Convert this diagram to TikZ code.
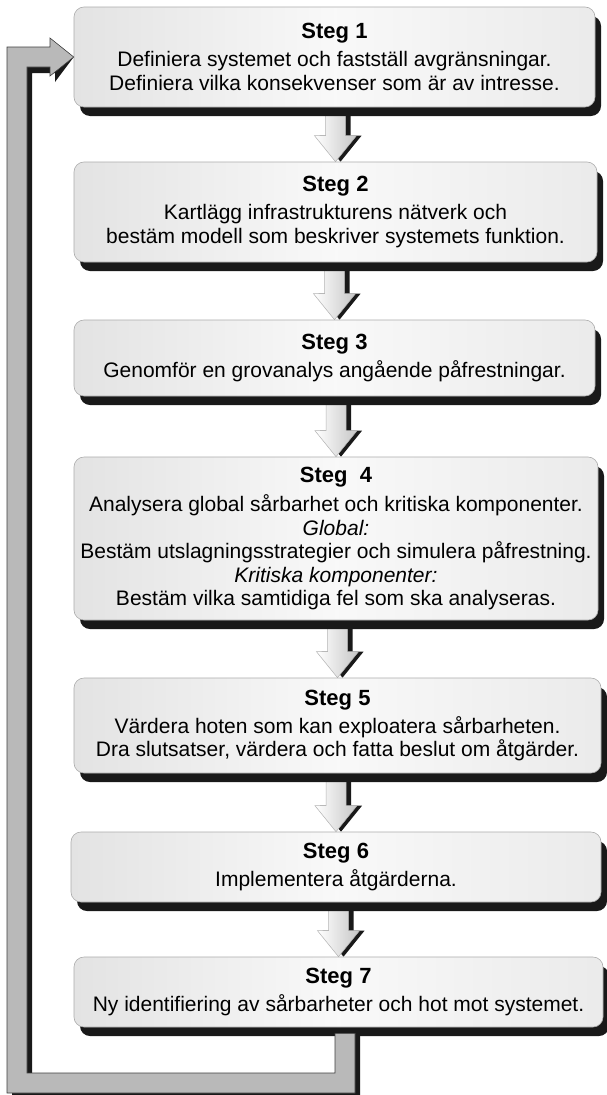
\documentclass[tikz,border=0pt]{standalone}
\usepackage{fontspec}
\setmainfont{Liberation Sans}
\usetikzlibrary{calc,shadows}
\pgfdeclarelayer{back}
\pgfdeclarelayer{bg}
\pgfsetlayers{back,bg,main}
\tikzset{
  stepbox/.style={draw=gray!65, line width=0.6pt, rounded corners=10pt,
    left color=gray!22, right color=gray!16, middle color=gray!5,
    drop shadow={shadow xshift=6pt, shadow yshift=-9pt, fill=black!90, opacity=1},
    align=center, inner sep=0pt, font=\fontsize{21}{23.5}\selectfont},
  titletext/.style={},
  arrowbody/.style={draw=gray!60, line width=0.5pt, left color=white, right color=gray!45},
  arrowshadow/.style={fill=black!90},
  loopbody/.style={draw=gray!50!black, line width=0.6pt, fill=gray!55},
  loopshadow/.style={fill=black!90},
}
\newcommand\stegtitle[1]{{\fontsize{22}{23.5}\selectfont\bfseries #1}}
\newcommand\blockarrow[2]{%
  \begin{pgfonlayer}{bg}
  \fill[arrowshadow] let \p1=(#1.south), \p2=(#2.north) in
    ({\x2+5pt-10pt},\y1) -- ({\x2+5pt+10pt},\y1) -- ({\x2+5pt+10pt},{\y2+26pt})
    -- ({\x2+5pt+21pt},{\y2+26pt}) -- ({\x2+5pt},\y2) -- ({\x2+5pt-21pt},{\y2+26pt})
    -- ({\x2+5pt-10pt},{\y2+26pt}) -- cycle;
  \path[arrowbody] let \p1=(#1.south), \p2=(#2.north) in
    ({\x2-10pt},\y1) -- ({\x2+10pt},\y1) -- ({\x2+10pt},{\y2+26pt})
    -- ({\x2+21pt},{\y2+26pt}) -- (\x2,\y2) -- ({\x2-21pt},{\y2+26pt})
    -- ({\x2-10pt},{\y2+26pt}) -- cycle;
  \end{pgfonlayer}}
\begin{document}
\begin{tikzpicture}[x=1pt,y=-1pt]
\begin{pgfonlayer}{back}
\fill[white] (0,0) rectangle (606,1095);
\end{pgfonlayer}
\useasboundingbox (0,0) rectangle (606,1095);

\node[stepbox, minimum width=521pt, minimum height=100pt] (b1) at (334.5,57)
  {\stegtitle{Steg 1}\\[4.5pt]
   Definiera systemet och fastställ avgränsningar.\\
   Definiera vilka konsekvenser som är av intresse.};
\node[stepbox, minimum width=523pt, minimum height=100pt] (b2) at (335.5,212)
  {\stegtitle{Steg 2}\\[4.5pt]
   Kartlägg infrastrukturens nätverk och\\
   bestäm modell som beskriver systemets funktion.};
\node[stepbox, minimum width=521pt, minimum height=76pt] (b3) at (334.5,358)
  {\stegtitle{Steg 3}\\[4.5pt]
   Genomför en grovanalys angående påfrestningar.};
\node[stepbox, minimum width=524pt, minimum height=163pt] (b4) at (336,538.5)
  {\stegtitle{Steg~ 4}\\[6pt]
   Analysera global sårbarhet och kritiska komponenter.\\
   \textit{Global:}\\
   Bestäm utslagningsstrategier och simulera påfrestning.\\
   \textit{Kritiska komponenter:}\\
   Bestäm vilka samtidiga fel som ska analyseras.};
\node[stepbox, minimum width=527pt, minimum height=95pt] (b5) at (337.5,725.5)
  {\stegtitle{Steg 5}\\[4.5pt]
   Värdera hoten som kan exploatera sårbarheten.\\
   Dra slutsatser, värdera och fatta beslut om åtgärder.};
\node[stepbox, minimum width=530pt, minimum height=70pt] (b6) at (336,867)
  {\stegtitle{Steg 6}\\[4.5pt]
   Implementera åtgärderna.};
\node[stepbox, minimum width=529pt, minimum height=70pt] (b7) at (338.5,992)
  {\stegtitle{Steg 7}\\[4.5pt]
   Ny identifiering av sårbarheter och hot mot systemet.};

\blockarrow{b1}{b2}
\blockarrow{b2}{b3}
\blockarrow{b3}{b4}
\blockarrow{b4}{b5}
\blockarrow{b5}{b6}
\blockarrow{b6}{b7}

% feedback loop from Steg 7 back to Steg 1
\coordinate (lstart) at ([yshift=-6pt]b7.south);
\begin{pgfonlayer}{bg}
\fill[loopshadow, xshift=5pt, yshift=-6pt]
  (335,0 |- lstart) -- (335,1073) -- (27,1073) -- (27,67) -- (50,67) -- (50,76)
  -- (b1.west) -- (50,38) -- (50,47) -- (7,47) -- (7,1093) -- (355,1093)
  -- (355,0 |- lstart) -- cycle;
\end{pgfonlayer}
\path[loopbody]
  (335,0 |- lstart) -- (335,1073) -- (27,1073) -- (27,67) -- (50,67) -- (50,76)
  -- (b1.west) -- (50,38) -- (50,47) -- (7,47) -- (7,1093) -- (355,1093)
  -- (355,0 |- lstart) -- cycle;
\end{tikzpicture}
\end{document}
